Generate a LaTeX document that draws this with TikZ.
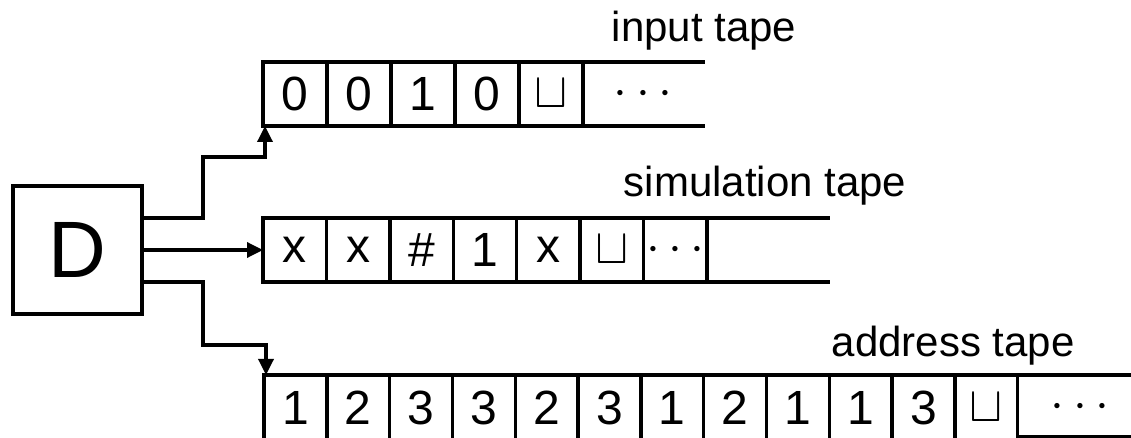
\documentclass[tikz,border=0pt]{standalone}
\usepackage{fontspec}
\setmainfont{Liberation Sans}
\usetikzlibrary{arrows.meta}
\newcommand{\blanksym}{{\fontsize{28}{28}\selectfont$\sqcup$}}
\begin{document}
\begin{tikzpicture}%
  [x=0.5pt,y=-0.5pt,line width=1.7pt,
   arr/.style={-{Triangle[length=8pt,width=7.5pt]}}]
  \tikzstyle{cell node}=[rectangle,draw,inner sep=0,outer sep=0,minimum height=32pt,font=\fontsize{24}{24}\selectfont]
  \tikzstyle{tape label}=[anchor=base west,inner sep=0,font=\fontsize{21}{21}\selectfont]
  \useasboundingbox (0,0) rectangle (1131,438);
  % machine
  \node(D)[rectangle,draw,outer sep=0,minimum width=64.5pt,minimum height=64pt,font=\fontsize{40}{40}\selectfont] at (77.5,250){D};
  % input tape
  \foreach \s [count=\i] in {0,0,1,0,\blanksym}
    \node(in\i)[cell node,minimum width=32pt] at (263+64*\i-32,94){\s};
  \node(indots)[font=\fontsize{24}{24}\selectfont] at (643,94){$\cdots$};
  \coordinate(inend) at (705,0);
  \draw (in5.north east) -- (in5.north east -| inend);
  \draw (in5.south east) -- (in5.south east -| inend);
  \node(inlbl)[tape label] at (610,42){input tape};
  % simulation tape
  \foreach \s [count=\i] in {x,x,$\#$,1,x,\blanksym,$\cdots$}
    \node(sim\i)[cell node,minimum width=31.7pt] at (263+63.4*\i-31.7,250){\s};
  \coordinate(simend) at (830,0);
  \draw (sim7.north east) -- (sim7.north east -| simend);
  \draw (sim7.south east) -- (sim7.south east -| simend);
  \node(simlbl)[tape label] at (622,197){simulation tape};
  % address tape
  \foreach \s [count=\i] in {1,2,3,3,2,3,1,2,1,1,3,\blanksym}
    \node(adr\i)[cell node,minimum width=31.4pt,minimum height=33pt] at (264+62.8*\i-31.4,408){\s};
  \node(adrdots)[font=\fontsize{24}{24}\selectfont] at (1080,407){$\cdots$};
  \coordinate(adrend) at (1131,437);
  \draw (adr12.north east) -- (adr12.north east -| adrend);
  \draw (adr12.east |- adrend) -- (adrend);
  \node(adrlbl)[tape label] at (830,357){address tape};
  % heads
  \coordinate(upbend) at (203,157);
  \coordinate(dnbend) at (203,345);
  \draw[arr] ([yshift=16pt]D.east) -| (upbend) -| ([xshift=1pt]in1.south west);
  \draw[arr] (D.east) -- (sim1.west);
  \draw[arr] ([yshift=-16pt]D.east) -| (dnbend) -| ([xshift=1pt]adr1.north west);
\end{tikzpicture}
\end{document}
